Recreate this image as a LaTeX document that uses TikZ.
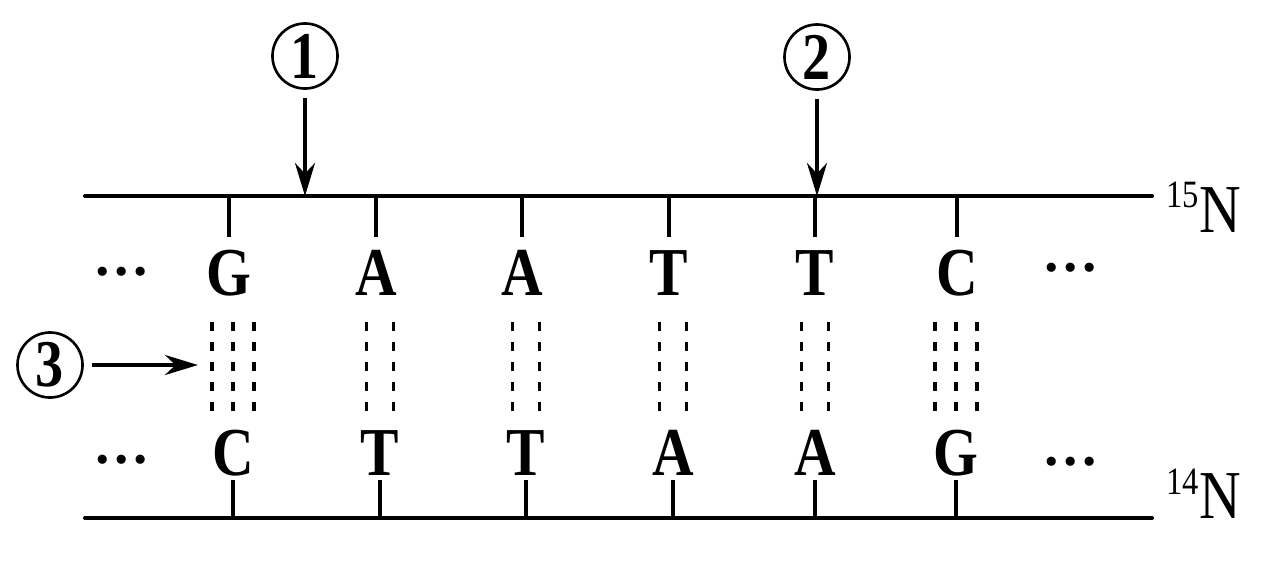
\documentclass[tikz,border=0pt]{standalone}
\usepackage{fontspec}
\setmainfont{Liberation Serif}
\newfontfamily\narrowserif[FakeStretch=0.84]{Liberation Serif}
\usetikzlibrary{arrows.meta}

\tikzset{
  strand/.style={line width=1.15pt, line cap=round},
  stub/.style={line width=1pt},
  hbond/.style={line width=1.1pt, dash pattern=on 2.6pt off 3.1pt},
  nuc/.style={font=\narrowserif\fontsize{19.5}{19.5}\selectfont\bfseries, inner sep=0pt, anchor=base},
  gap/.style={font=\fontsize{16}{16}\selectfont\bfseries, inner sep=0pt},
  tag/.style={circle, draw, line width=0.75pt, minimum size=0.65cm, inner sep=0pt,
    outer sep=0.09cm, font=\narrowserif\fontsize{19}{19}\selectfont\bfseries},
  isotope/.style={anchor=base west, inner sep=0pt, font=\narrowserif\fontsize{19.5}{19.5}\selectfont},
  pointer/.style={-{Stealth[length=9.4pt,width=5.7pt,inset=3pt]}, line width=0.95pt},
}

\begin{document}
\begin{tikzpicture}[x=0.01cm,y=-0.01cm]
  \useasboundingbox (0,0) rectangle (1276,560);

  % the two strands
  \coordinate (s15w) at (85,196);
  \coordinate (s15e) at (1152,196);
  \coordinate (s14w) at (85,518);
  \coordinate (s14e) at (1152,518);
  \draw[strand] (s15w) -- (s15e);
  \draw[strand] (s14w) -- (s14e);
  \node[isotope] (n15) at (1166,232) {\raisebox{0.24cm}{\fontsize{11}{11}\selectfont 15}N};
  \node[isotope] (n14) at (1166,518) {\raisebox{0.24cm}{\fontsize{11}{11}\selectfont 14}N};

  % base pairs
  \foreach \i/\xt/\xb/\up/\dn/\bonds in {1/229/233/G/C/{-21,0,21},
      2/376/380/A/T/{-13.5,13.5}, 3/522/526/A/T/{-13.5,13.5},
      4/669/673/T/A/{-13.5,13.5}, 5/815/815/T/A/{-13.5,13.5},
      6/957/956/C/G/{-21,0,21}} {
    \node[nuc] (t\i) at (\xt,295) {\up};
    \node[nuc] (b\i) at (\xb,475) {\dn};
    \draw[stub] (t\i |- s15w) -- ++(0,41);
    \draw[stub] (b\i |- s14w) -- ++(0,-38);
    \foreach \o in \bonds
      \draw[hbond] (\xb+\o,322) -- (\xb+\o,411);
  }

  \node[gap] (dtl) at (122,272) {…};
  \node[gap] (dbl) at (122,460) {…};
  \node[gap] (dtr) at (1071,268) {…};
  \node[gap] (dbr) at (1071,462) {…};

  % numbered pointers
  \node[tag] (c1) at (305,56) {1};
  \node[tag] (c2) at (817,57) {2};
  \node[tag] (c3) at (50,365) {3};
  \coordinate (hb) at (198,365);
  \draw[pointer] (c1) -- (c1 |- s15w);
  \draw[pointer] (c2) -- (c2 |- s15w);
  \draw[pointer] (c3) -- (hb);
\end{tikzpicture}
\end{document}
